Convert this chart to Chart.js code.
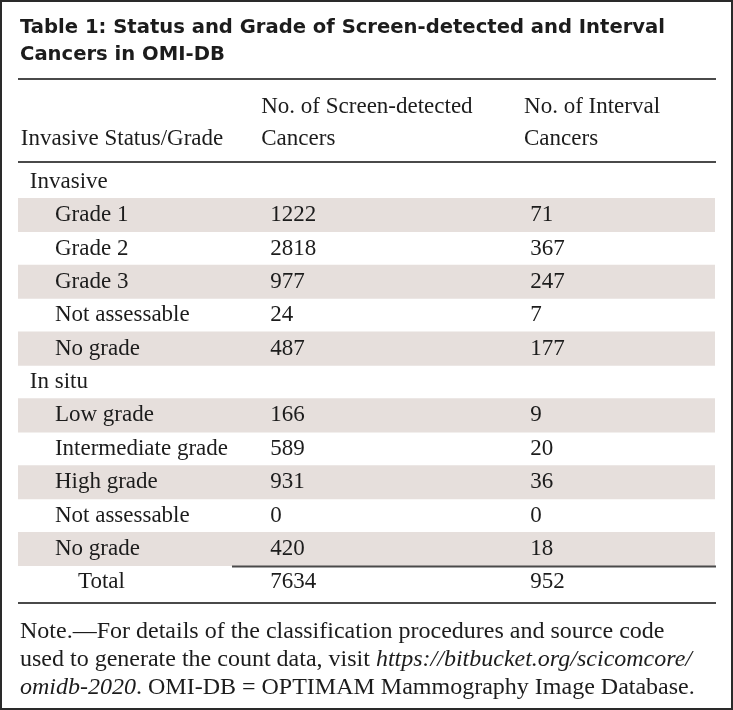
<!DOCTYPE html>
<html>
<head>
<meta charset="utf-8">
<script src="https://cdn.jsdelivr.net/npm/chart.js@4/dist/chart.umd.min.js"></script>
<style>
  html, body { margin: 0; padding: 0; background: #fff; }
  #wrap { width: 733px; height: 710px; }
</style>
</head>
<body>
<div id="wrap"><canvas id="table1" width="733" height="710"></canvas></div>
<script>
// table content
const titleLines = ['Table 1: Status and Grade of Screen-detected and Interval', 'Cancers in OMI-DB'];
const columnHeaders = [
    ['', 'Invasive Status/Grade'],
    ['No. of Screen-detected', 'Cancers'],
    ['No. of Interval', 'Cancers']
];
const rowLabels = ['Invasive', 'Grade 1', 'Grade 2', 'Grade 3', 'Not assessable', 'No grade',
    'In situ', 'Low grade', 'Intermediate grade', 'High grade', 'Not assessable', 'No grade', 'Total'];
const rowKinds = ['group', 'item', 'item', 'item', 'item', 'item',
    'group', 'item', 'item', 'item', 'item', 'item', 'total'];
const screenDetected = [null, 1222, 2818, 977, 24, 487, null, 166, 589, 931, 0, 420, 7634];
const intervalCancers = [null, 71, 367, 247, 7, 177, null, 9, 20, 36, 0, 18, 952];
const noteLines = [
    [['Note.\u2014For details of the classification procedures and source code', false]],
    [['used to generate the count data, visit ', false], ['https://bitbucket.org/scicomcore/', true]],
    [['omidb-2020', true], ['. OMI-DB = OPTIMAM Mammography Image Database.', false]]
];

const COLORS = {
    text: '#1c1c1c',
    rule: '#4a4a4a',
    shade: '#e6dfdc',
    border: '#2a2a2a'
};
const SERIF = '"Liberation Serif", "DejaVu Serif", serif';
const SANS = '"DejaVu Sans", sans-serif';

// x positions on the 0..1 table scale
const COL_X = {
    head: 0.004, group: 0.017, item: 0.053, total: 0.086,
    screenHead: 0.349, screen: 0.362, intervalHead: 0.726, interval: 0.735, totalRule: 0.307
};

// every other item row is shaded
const shadeData = rowKinds.map((k, i) => (k === 'item' && i % 2 === 1) ? [0, 1] : null);

function textLine(ctx, segs, x, y) {
    segs.forEach(([str, italic]) => {
        ctx.font = (italic ? 'italic ' : '') + '24px ' + SERIF;
        ctx.fillText(str, x, y);
        x += ctx.measureText(str).width;
    });
}

function hRule(ctx, x1, x2, y, w) {
    ctx.save();
    ctx.strokeStyle = COLORS.rule;
    ctx.lineWidth = w || 2;
    ctx.beginPath();
    ctx.moveTo(x1, y);
    ctx.lineTo(x2, y);
    ctx.stroke();
    ctx.restore();
}

const tablePlugin = {
    id: 'tableText',
    beforeDraw(chart) {
        const { ctx, width, height } = chart;
        ctx.save();
        ctx.fillStyle = '#fff';
        ctx.fillRect(0, 0, width, height);
        ctx.restore();
    },
    afterDatasetsDraw(chart) {
        const { ctx, chartArea: a, width, height } = chart;
        const xs = chart.scales.x, ys = chart.scales.y;
        const px = v => xs.getPixelForValue(v);

        ctx.save();
        ctx.fillStyle = COLORS.text;
        ctx.textBaseline = 'middle';

        // title
        ctx.font = 'bold 19.6px ' + SANS;
        titleLines.forEach((t, i) => ctx.fillText(t, a.left + 2, 28 + i * 27));
        hRule(ctx, a.left, a.right + 1, 79);

        // column headers
        ctx.font = '23px ' + SERIF;
        const hx = [px(COL_X.head), px(COL_X.screenHead), px(COL_X.intervalHead)];
        columnHeaders.forEach((lines, c) => {
            lines.forEach((t, j) => ctx.fillText(t, hx[c], 107 + j * 32));
        });
        hRule(ctx, a.left, a.right + 1, a.top - 3);

        // body rows
        rowLabels.forEach((lab, i) => {
            const y = ys.getPixelForValue(i);
            ctx.fillText(lab, px(COL_X[rowKinds[i]]), y);
            if (screenDetected[i] !== null) ctx.fillText(String(screenDetected[i]), px(COL_X.screen), y);
            if (intervalCancers[i] !== null) ctx.fillText(String(intervalCancers[i]), px(COL_X.interval), y);
        });

        // rule above Total, and closing rule
        const last = rowLabels.length - 1;
        const yTot = (ys.getPixelForValue(last) + ys.getPixelForValue(last - 1)) / 2;
        hRule(ctx, px(COL_X.totalRule), a.right + 1, yTot + 1);
        hRule(ctx, a.left, a.right + 1, a.bottom + 4);

        // note
        ctx.textBaseline = 'alphabetic';
        noteLines.forEach((segs, i) => textLine(ctx, segs, a.left + 2, a.bottom + 39 + i * 28));

        // frame
        ctx.strokeStyle = COLORS.border;
        ctx.lineWidth = 2;
        ctx.strokeRect(1, 1, width - 2, height - 2);
        ctx.restore();
    }
};

new Chart(document.getElementById('table1'), {
    type: 'bar',
    data: {
        labels: rowLabels,
        datasets: [{
            data: shadeData,
            backgroundColor: COLORS.shade,
            borderWidth: 0,
            barPercentage: 1,
            categoryPercentage: 1
        }]
    },
    options: {
        indexAxis: 'y',
        responsive: false,
        animation: false,
        events: [],
        layout: { padding: { top: 165, bottom: 111, left: 18, right: 18 } },
        plugins: { legend: { display: false }, tooltip: { enabled: false }, title: { display: false } },
        scales: {
            x: { type: 'linear', min: 0, max: 1, display: false },
            y: { type: 'category', display: false, grid: { display: false } }
        }
    },
    plugins: [tablePlugin]
});
</script>
</body>
</html>
